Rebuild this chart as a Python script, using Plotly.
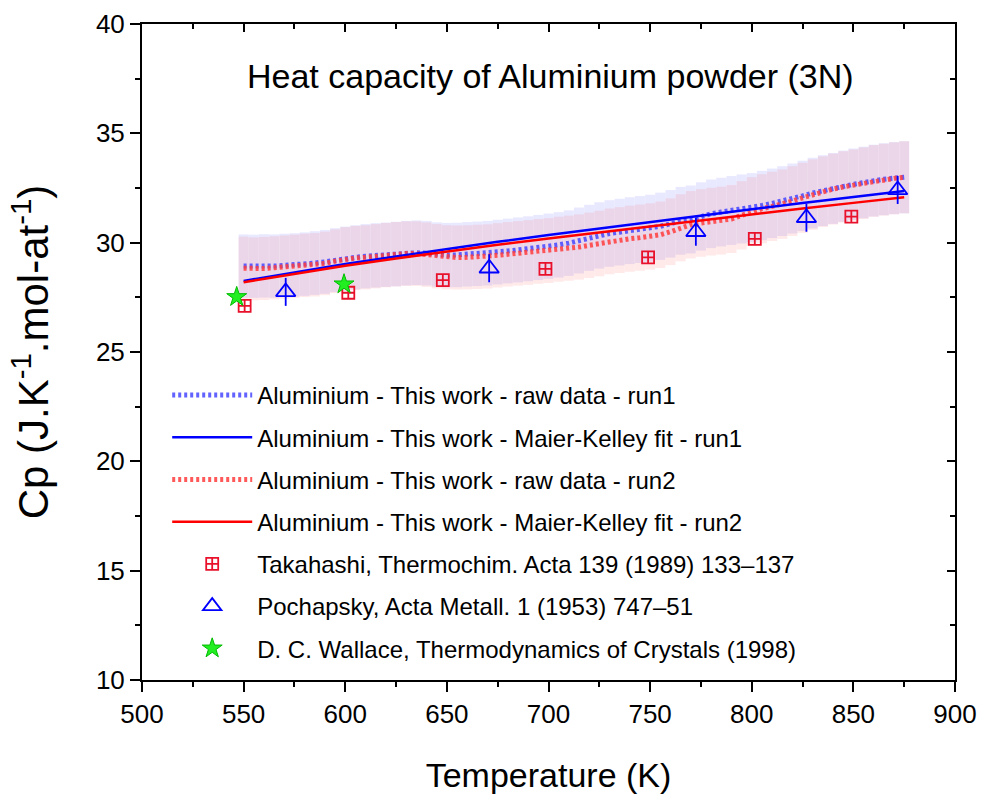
import plotly.graph_objects as go

# ---------------- data ----------------
T_raw = list(range(550, 880, 5))

cp_run1 = [28.93, 28.92, 28.94, 28.93, 28.96, 28.98, 29.02, 29.07, 29.12, 29.20,
           29.27, 29.33, 29.38, 29.42, 29.45, 29.48, 29.52, 29.54, 29.52, 29.46,
           29.43, 29.44, 29.47, 29.49, 29.52, 29.57, 29.62, 29.67, 29.72, 29.78,
           29.84, 29.90, 29.98, 30.10, 30.22, 30.33, 30.42, 30.48, 30.55, 30.60,
           30.66, 30.75, 30.86, 31.00, 31.06, 31.20, 31.32, 31.40, 31.47, 31.54,
           31.60, 31.70, 31.80, 31.90, 32.02, 32.14, 32.27, 32.38, 32.48, 32.58,
           32.67, 32.75, 32.84, 32.90, 32.95, 32.99]

cp_run2 = [28.83, 28.80, 28.82, 28.85, 28.88, 28.92, 28.96, 28.99, 29.05, 29.15,
           29.25, 29.30, 29.33, 29.38, 29.43, 29.47, 29.50, 29.50, 29.45, 29.38,
           29.33, 29.32, 29.33, 29.35, 29.37, 29.42, 29.47, 29.51, 29.55, 29.60,
           29.64, 29.70, 29.75, 29.80, 29.88, 29.96, 30.06, 30.12, 30.18, 30.23,
           30.28, 30.36, 30.50, 30.68, 30.82, 30.90, 30.96, 31.01, 31.08, 31.25,
           31.42, 31.55, 31.66, 31.76, 31.90, 32.05, 32.20, 32.33, 32.45, 32.55,
           32.63, 32.72, 32.82, 32.88, 32.94, 32.99]

uncertainty_pct = 5

T_fit = [550, 575, 600, 625, 650, 675, 700, 725, 750, 775, 800, 825, 850, 875]
fit_run1 = [28.25, 28.65, 29.02, 29.37, 29.72, 30.04, 30.35, 30.65, 30.95, 31.24,
            31.53, 31.81, 32.09, 32.36]
fit_run2 = [28.19, 28.58, 28.94, 29.28, 29.60, 29.90, 30.19, 30.47, 30.75, 31.02,
            31.30, 31.56, 31.82, 32.08]

T_takahashi = [550.5, 601.5, 648, 698.5, 749, 801.5, 849]
cp_takahashi = [27.11, 27.71, 28.29, 28.80, 29.33, 30.17, 31.19]

T_pochapsky = [570.7, 670.8, 772.5, 826.9, 871.8]
cp_pochapsky = [27.75, 28.83, 30.50, 31.14, 32.41]

T_wallace = [546.6, 599.4]
cp_wallace = [27.52, 28.10]

names = [
    "Aluminium - This work - raw data - run1",
    "Aluminium - This work - Maier-Kelley fit - run1",
    "Aluminium - This work - raw data - run2",
    "Aluminium - This work - Maier-Kelley fit - run2",
    "Takahashi, Thermochim. Acta 139 (1989) 133\u2013137",
    "Pochapsky, Acta Metall. 1 (1953) 747\u201351",
    "D. C. Wallace, Thermodynamics of Crystals (1998)",
]

FONT = "Liberation Sans, Arial, sans-serif"

fig = go.Figure()

# uncertainty bands (error bars of raw data)
for cp, col in [(cp_run1, "rgba(110,110,255,0.16)"), (cp_run2, "rgba(255,110,110,0.15)")]:
    fig.add_trace(go.Scatter(
        x=T_raw, y=cp, mode="markers",
        marker=dict(size=1, color="rgba(0,0,0,0)"),
        error_y=dict(type="percent", value=uncertainty_pct, color=col,
                     thickness=10, width=0),
        showlegend=False, hoverinfo="skip"))

# raw data
fig.add_trace(go.Scatter(x=T_raw, y=cp_run1, mode="lines", name=names[0],
                         line=dict(color="rgba(70,70,255,0.85)", width=5, dash="3px,3px"),
                         legendrank=1, legendgroup="g1"))
fig.add_trace(go.Scatter(x=T_raw, y=cp_run2, mode="lines", name=names[2],
                         line=dict(color="rgba(255,60,60,0.85)", width=5, dash="3px,3px"),
                         legendrank=3, legendgroup="g3"))
# fits
fig.add_trace(go.Scatter(x=T_fit, y=fit_run1, mode="lines", name=names[1],
                         line=dict(color="#0000ff", width=2.5),
                         legendrank=2, legendgroup="g2"))
fig.add_trace(go.Scatter(x=T_fit, y=fit_run2, mode="lines", name=names[3],
                         line=dict(color="#ff0000", width=2.5),
                         legendrank=4, legendgroup="g4"))
# literature
fig.add_trace(go.Scatter(x=T_takahashi, y=cp_takahashi, mode="markers", name=names[4],
                         marker=dict(symbol="square-cross-open", size=12, color="#e8102a",
                                     line=dict(width=1.8, color="#e8102a")),
                         legendrank=5, legendgroup="g5"))
fig.add_trace(go.Scatter(x=T_pochapsky, y=cp_pochapsky, mode="markers", name=names[5],
                         marker=dict(symbol="triangle-up-open", size=17, color="#0000ff",
                                     line=dict(width=1.8, color="#0000ff")),
                         legendrank=6, legendgroup="g6"))
fig.add_trace(go.Scatter(x=T_pochapsky, y=cp_pochapsky, mode="markers", showlegend=False,
                         marker=dict(symbol="line-ns-open", size=20, color="#0000ff",
                                     line=dict(width=1.8, color="#0000ff")),
                         legendgroup="g6", hoverinfo="skip"))
fig.add_trace(go.Scatter(x=T_wallace, y=cp_wallace, mode="markers", name=names[6],
                         marker=dict(symbol="star", size=15, color="#22ee22",
                                     line=dict(width=1, color="#00bb00")),
                         legendrank=7, legendgroup="g7"))

# dummy for mirrored axes
fig.add_trace(go.Scatter(x=[None], y=[None], xaxis="x2", yaxis="y2",
                         showlegend=False, hoverinfo="skip"))

axis_common = dict(showline=True, linewidth=2, linecolor="black", showgrid=False,
                   zeroline=False, tickwidth=2, tickcolor="black", ticklen=10,
                   automargin=False,
                   tickfont=dict(family=FONT, size=26, color="black"))

mirror_common = dict(ticks="inside", showticklabels=False, showline=True, linewidth=2,
                     linecolor="black", showgrid=False, zeroline=False, ticklen=8,
                     tickwidth=2, tickcolor="black", automargin=False)

fig.update_layout(
    width=985, height=801,
    margin=dict(l=142, r=30, t=24, b=121, autoexpand=False),
    paper_bgcolor="white", plot_bgcolor="white",
    font=dict(family=FONT, color="black"),
    xaxis=dict(range=[500, 900], dtick=50, tick0=500, ticks="outside",
               minor=dict(dtick=25, ticklen=5, tickwidth=2, ticks="outside", tickcolor="black"),
               title=dict(text="Temperature (K)", font=dict(family=FONT, size=34), standoff=35),
               **axis_common),
    yaxis=dict(range=[10, 40], dtick=5, tick0=10, ticks="outside",
               minor=dict(dtick=2.5, ticklen=5, tickwidth=2, ticks="outside", tickcolor="black"),
               title=dict(text="Cp (J.K<sup>-1</sup>.mol-at<sup>-1</sup>)",
                          font=dict(family=FONT, size=42), standoff=34),
               **axis_common),
    xaxis2=dict(range=[500, 900], overlaying="x", side="top", anchor="y", dtick=50, tick0=500,
                minor=dict(dtick=25, ticklen=5, tickwidth=2, ticks="inside", tickcolor="black"),
                **mirror_common),
    yaxis2=dict(range=[10, 40], overlaying="y", side="right", anchor="x", dtick=5, tick0=10,
                minor=dict(dtick=2.5, ticklen=5, tickwidth=2, ticks="inside", tickcolor="black"),
                **mirror_common),
    legend=dict(x=0.031, y=0.468, xanchor="left", yanchor="top",
                bgcolor="rgba(0,0,0,0)", font=dict(family=FONT, size=24, color="black"),
                itemwidth=80, tracegroupgap=8),
    annotations=[dict(text="Heat capacity of Aluminium powder (3N)", xref="paper", yref="paper",
                      x=0.502, y=0.92, xanchor="center", yanchor="middle", showarrow=False,
                      font=dict(family=FONT, size=34, color="black"))],
)

fig.write_html("out.html")
